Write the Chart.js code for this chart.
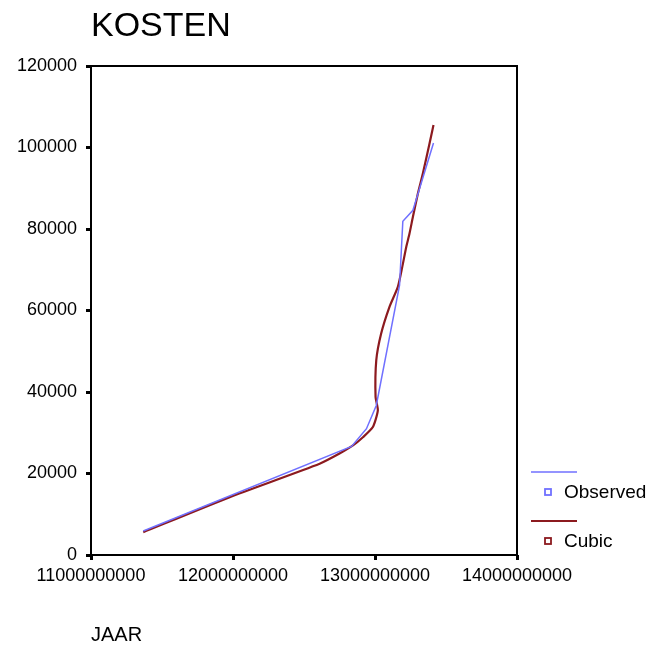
<!DOCTYPE html>
<html>
<head>
<meta charset="utf-8">
<script src="https://cdn.jsdelivr.net/npm/chart.js@4"></script>
<style>
  body { margin: 0; background: #fff; }
  #wrap { width: 653px; height: 650px; }
</style>
</head>
<body>
<div id="wrap"><canvas id="grafica" width="653" height="650"></canvas></div>
<script>
// JAAR / KOSTEN
const jaarObserved = [11.368e9, 12.835e9, 12.94e9, 13.009e9, 13.173e9, 13.196e9, 13.267e9, 13.412e9];
const kostenObserved = [5900, 26650, 31000, 36700, 66200, 81900, 84600, 101100];

const jaarCubic = [11.368e9, 11.977e9, 12.61e9, 12.75e9, 12.845e9, 12.915e9, 12.985e9, 13.02e9, 13.004e9,
    13.009e9, 13.043e9, 13.102e9, 13.161e9, 13.192e9, 13.22e9, 13.243e9, 13.267e9, 13.302e9, 13.337e9, 13.384e9, 13.412e9];
const kostenCubic = [5600, 14200, 22400, 24900, 26900, 28900, 31400, 35500, 38800,
    47800, 54300, 60900, 65800, 70700, 75600, 78900, 83000, 88700, 93600, 101000, 105500];

const xTicks = [11000000000, 12000000000, 13000000000, 14000000000];
const yTicks = [0, 20000, 40000, 60000, 80000, 100000, 120000];

const titel = "KOSTEN";
const asTitel = "JAAR";
const namen = ["Observed", "Cubic"];
const kleuren = ["#7070ff", "#8c1a1f"];

function punten(xs, ys) {
    let res = [];
    for (let i = 0; i < xs.length; i++) {
        res.push({x: xs[i], y: ys[i]});
    }
    return res;
}

const fontNaam = '"Liberation Sans", Arial, sans-serif';

// title, frame and legend drawn by hand (SPSS style)
const extraTekenen = {
    id: 'extraTekenen',
    afterDraw(chart) {
        const ctx = chart.ctx;
        const a = chart.chartArea;
        ctx.save();
        ctx.strokeStyle = '#000';
        ctx.lineWidth = 2;
        ctx.strokeRect(a.left, a.top, a.right - a.left, a.bottom - a.top);

        ctx.fillStyle = '#000';
        ctx.font = '34px ' + fontNaam;
        ctx.textBaseline = 'alphabetic';
        ctx.fillText(titel, 91, 36);

        // legend
        ctx.font = '19px ' + fontNaam;
        ctx.textBaseline = 'middle';
        const rijen = [472, 521];
        for (let i = 0; i < namen.length; i++) {
            const y = rijen[i];
            ctx.strokeStyle = kleuren[i];
            ctx.lineWidth = i == 0 ? 1.5 : 2;
            ctx.beginPath();
            ctx.moveTo(531, y);
            ctx.lineTo(577, y);
            ctx.stroke();
            ctx.lineWidth = 1.8;
            ctx.strokeRect(545, y + 17, 6, 6);
            ctx.fillStyle = '#000';
            ctx.fillText(namen[i], 564, y + 21);
        }
        ctx.restore();
    }
};

const ctx = document.getElementById('grafica').getContext('2d');
const grafica = new Chart(ctx, {
    type: 'scatter',
    data: {
        datasets: [{
            label: namen[0],
            data: punten(jaarObserved, kostenObserved),
            showLine: true,
            borderColor: kleuren[0],
            borderWidth: 1.5,
            pointRadius: 0,
            tension: 0
        }, {
            label: namen[1],
            data: punten(jaarCubic, kostenCubic),
            showLine: true,
            borderColor: kleuren[1],
            borderWidth: 2.2,
            pointRadius: 0,
            tension: 0.2
        }]
    },
    options: {
        responsive: false,
        animation: false,
        layout: { padding: { top: 66, right: 136, left: 0, bottom: 0 } },
        plugins: {
            legend: { display: false },
            tooltip: { enabled: false }
        },
        scales: {
            x: {
                type: 'linear',
                min: 11000000000,
                max: 14000000000,
                afterBuildTicks: function (scale) {
                    scale.ticks = xTicks.map(v => ({value: v}));
                },
                afterFit: function (scale) { scale.height = 95; },
                border: { display: false },
                grid: { drawOnChartArea: false, tickLength: 5, tickColor: '#000', tickWidth: 3 },
                ticks: {
                    color: '#000',
                    padding: 5,
                    maxRotation: 0,
                    font: { family: fontNaam, size: 18 },
                    callback: function (v) { return String(v); }
                },
                title: {
                    display: true,
                    text: asTitel,
                    align: 'start',
                    color: '#000',
                    font: { family: fontNaam, size: 20 },
                    padding: { top: 0, bottom: 3 }
                }
            },
            y: {
                type: 'linear',
                min: 0,
                max: 120000,
                afterBuildTicks: function (scale) {
                    scale.ticks = yTicks.map(v => ({value: v}));
                },
                afterFit: function (scale) { scale.width = 91; },
                border: { display: false },
                grid: { drawOnChartArea: false, tickLength: 5, tickColor: '#000', tickWidth: 3 },
                ticks: {
                    color: '#000',
                    padding: 9,
                    font: { family: fontNaam, size: 18 },
                    callback: function (v) { return String(v); }
                }
            }
        }
    },
    plugins: [extraTekenen]
});
</script>
</body>
</html>
